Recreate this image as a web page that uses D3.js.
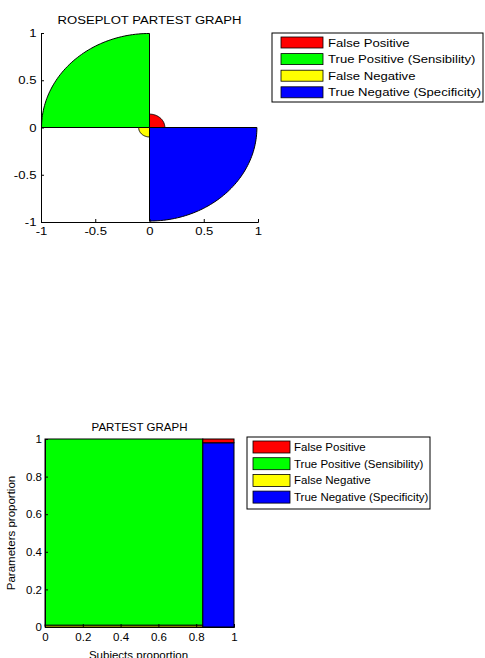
<!DOCTYPE html>
<html>
<head>
<meta charset="utf-8">
<script src="https://cdn.jsdelivr.net/npm/d3@7"></script>
<style>
  body { margin: 0; background: #fff; }
  svg { display: block; font-family: "Liberation Sans", Arial, sans-serif; }
  text { fill: #000; }
</style>
</head>
<body>
<div id="viz"></div>
<script>
// legend / category order, one entry per quadrant of the rose plot
const categories = ['False Positive', 'True Positive (Sensibility)', 'False Negative', 'True Negative (Specificity)'];
const colors = ['#ff0000', '#00ff00', '#ffff00', '#0000ff'];
// proportions: FP, TP, FN, TN
const proportions = [0.02, 0.99, 0.01, 0.98];
// width of the "diseased" column (subjects proportion)
const prevalence = 0.835;

const roseTicks = [-1, -0.5, 0, 0.5, 1];
const barTicks = [0, 0.2, 0.4, 0.6, 0.8, 1];

const W = 485, H = 658;
const FS = 11.5;
const STRETCH = 1.14; // the top figure is widened horizontally

const svg = d3.select('#viz').append('svg').attr('width', W).attr('height', H);

// plain hyphen for negatives, like the original
const fmt = d => String(d);

function label(g, x, y, txt, anchor, k) {
    return g.append('text')
        .attr('transform', `translate(${x},${y}) scale(${k},1)`)
        .attr('text-anchor', anchor)
        .attr('font-size', FS)
        .text(txt);
}

function legend(g, x, y, w, h, sw, sh, step, tx, k) {
    g.append('rect').attr('x', x).attr('y', y).attr('width', w).attr('height', h)
        .attr('fill', '#fff').attr('stroke', '#000');
    categories.forEach((c, i) => {
        let ry = y + 4 + i * step;
        g.append('rect').attr('x', sw[0]).attr('y', ry).attr('width', sw[1]).attr('height', sh)
            .attr('fill', colors[i]).attr('stroke', '#000').attr('stroke-width', 0.8);
        label(g, tx, ry + sh / 2 + 4, c, 'start', k);
    });
}

// ---------- rose plot ----------
function drawRose() {
    let g = svg.append('g');
    let x = d3.scaleLinear().domain([-1, 1]).range([41, 258]);
    let y = d3.scaleLinear().domain([-1, 1]).range([222, 33]);
    let r = d3.scaleSqrt().domain([0, 1]).range([0, 1]);

    let line = d3.line().x(d => x(d[0])).y(d => y(d[1]));

    proportions.forEach((p, i) => {
        let a0 = i * Math.PI / 2, a1 = (i + 1) * Math.PI / 2;
        let rr = r(p);
        let pts = [[0, 0]];
        d3.range(0, 61).forEach(j => {
            let a = a0 + (a1 - a0) * j / 60;
            pts.push([rr * Math.cos(a), rr * Math.sin(a)]);
        });
        pts.push([0, 0]);
        g.append('path').attr('d', line(pts))
            .attr('fill', colors[i]).attr('stroke', '#000').attr('stroke-width', 1)
            .attr('stroke-linejoin', 'round');
    });

    let ax = g.append('g').attr('transform', `translate(0,${y(-1)})`)
        .call(d3.axisBottom(x).tickValues(roseTicks).tickFormat(fmt).tickSize(-3).tickPadding(5));
    let ay = g.append('g').attr('transform', `translate(${x(-1)},0)`)
        .call(d3.axisLeft(y).tickValues(roseTicks).tickFormat(fmt).tickSize(-3).tickPadding(4));
    [ax, ay].forEach(a => {
        a.select('.domain').attr('stroke', '#000');
        a.selectAll('line').attr('stroke', '#000');
        a.selectAll('text').attr('font-size', FS).attr('font-family', null)
            .attr('transform', `scale(${STRETCH},1)`);
    });

    label(g, (x(-1) + x(1)) / 2, 24, 'ROSEPLOT PARTEST GRAPH', 'middle', STRETCH);
    legend(g, 272, 33, 211, 69, [281, 42], 11, 16.6, 328, STRETCH);
}

// ---------- partest bar graph ----------
function drawBars() {
    let g = svg.append('g');
    let x = d3.scaleLinear().domain([0, 1]).range([45, 234]);
    let y = d3.scaleLinear().domain([0, 1]).range([627, 439]);

    // column 1: FN at bottom, TP on top ; column 2: TN at bottom, FP on top
    let cells = [
        {x0: 0, x1: prevalence, y0: 0, y1: proportions[2], c: colors[2]},
        {x0: 0, x1: prevalence, y0: proportions[2], y1: 1, c: colors[1]},
        {x0: prevalence, x1: 1, y0: 0, y1: proportions[3], c: colors[3]},
        {x0: prevalence, x1: 1, y0: proportions[3], y1: 1, c: colors[0]}
    ];

    g.selectAll('rect.cell').data(cells).join('rect')
        .attr('class', 'cell')
        .attr('x', d => x(d.x0))
        .attr('y', d => y(d.y1))
        .attr('width', d => x(d.x1) - x(d.x0))
        .attr('height', d => y(d.y0) - y(d.y1))
        .attr('fill', d => d.c)
        .attr('stroke', '#000')
        .attr('stroke-width', 1);

    let ax = g.append('g').attr('transform', `translate(0,${y(0)})`)
        .call(d3.axisBottom(x).tickValues(barTicks).tickFormat(fmt).tickSize(-3).tickPadding(6));
    let ay = g.append('g').attr('transform', `translate(${x(0)},0)`)
        .call(d3.axisLeft(y).tickValues(barTicks).tickFormat(fmt).tickSize(-3).tickPadding(3));
    [ax, ay].forEach(a => {
        a.select('.domain').attr('stroke', '#000');
        a.selectAll('line').attr('stroke', '#000');
        a.selectAll('text').attr('font-size', FS).attr('font-family', null);
    });

    label(g, (x(0) + x(1)) / 2, 431, 'PARTEST GRAPH', 'middle', 1);
    label(g, (x(0) + x(1)) / 2 - 1, 659, 'Subjects proportion', 'middle', 1);
    g.append('text')
        .attr('transform', `translate(15,${(y(0) + y(1)) / 2}) rotate(-90)`)
        .attr('text-anchor', 'middle')
        .attr('font-size', FS)
        .text('Parameters proportion');

    legend(g, 247, 437, 183, 72, [253, 37], 12, 16.7, 294, 1);
}

drawRose();
drawBars();
</script>
</body>
</html>
